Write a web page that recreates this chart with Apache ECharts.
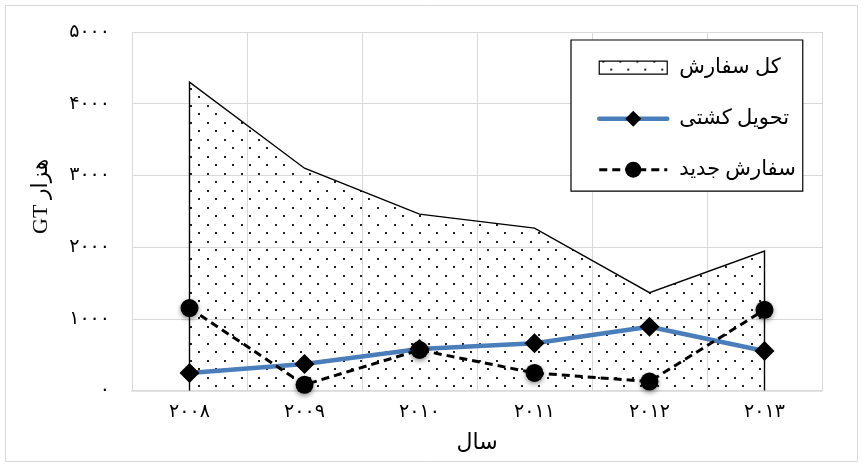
<!DOCTYPE html>
<html>
<head>
<meta charset="utf-8">
<script src="https://cdn.jsdelivr.net/npm/echarts@6/dist/echarts.min.js"></script>
<style>
  html, body { margin: 0; padding: 0; background: #fff; }
  #chart { width: 863px; height: 467px; }
</style>
</head>
<body>
<div id="chart"></div>
<script>
// Years on the category axis
const years = ['2008', '2009', '2010', '2011', '2012', '2013'];
// Thousand GT
const totalOrders = [4300, 3100, 2460, 2265, 1365, 1945];
const shipDelivery = [245, 370, 580, 660, 890, 550];
const newOrders = [1150, 80, 565, 245, 125, 1125];
// Value axis ticks
const yTicks = [0, 1000, 2000, 3000, 4000, 5000];
const seriesNames = ['کل سفارش', 'تحویل کشتی', 'سفارش جدید'];
const xAxisName = 'سال';
const yAxisName = 'GT هزار';

const FONT = '"Liberation Serif", "DejaVu Serif", "DejaVu Sans", serif';
const GRID_GRAY = '#d9d9d9';
const BLUE = '#4a7ebb';

// Western digits -> Persian digits
const faDigits = s => String(s).replace(/\d/g, d => '۰۱۲۳۴۵۶۷۸۹'[d]);

// Staggered dot fill used for the total-orders area
function dotPattern() {
  const c = document.createElement('canvas');
  c.width = 17; c.height = 17;
  const g = c.getContext('2d');
  g.fillStyle = '#222';
  g.fillRect(3, 3, 2, 2);
  g.fillRect(11, 11, 2, 2);
  return c;
}
const pattern = { image: dotPattern(), repeat: 'repeat' };

// Flat swatch for the area legend entry (move-to points keep it shorter than the item box)
const areaSwatch = 'path://M0,0 M0,3.5 L68,3.5 L68,16.5 L0,16.5 Z M68,20';

const chart = echarts.init(document.getElementById('chart'), null, { renderer: 'canvas' });

chart.setOption({
  animation: false,
  backgroundColor: '#fff',
  textStyle: { fontFamily: FONT },
  graphic: [{
    type: 'rect',
    shape: { x: 5.5, y: 5.5, width: 852, height: 456 },
    style: { fill: 'none', stroke: GRID_GRAY, lineWidth: 1 },
    silent: true,
    z: -10
  }],
  grid: { left: 132, right: 41, top: 32, bottom: 76.5 },
  legend: {
    orient: 'vertical',
    left: 571,
    top: 40,
    align: 'left',
    padding: [17, 7, 11, 26],
    itemGap: 30,
    itemWidth: 68,
    itemHeight: 20,
    borderColor: '#000',
    borderWidth: 1.2,
    backgroundColor: '#fff',
    textStyle: { fontFamily: FONT, fontSize: 21, color: '#000', padding: [0, 0, 0, 7] },
    data: [
      { name: seriesNames[0], icon: areaSwatch, itemStyle: { color: pattern, borderColor: '#000', borderWidth: 1.2 } },
      { name: seriesNames[1], lineStyle: { width: 4.5, color: BLUE } },
      { name: seriesNames[2], lineStyle: { width: 3, color: '#000', type: [8, 5] } }
    ]
  },
  xAxis: {
    type: 'category',
    data: years.map(faDigits),
    boundaryGap: true,
    axisLine: { show: true, lineStyle: { color: GRID_GRAY, width: 1.5 } },
    axisTick: { show: false },
    splitLine: { show: true, lineStyle: { color: GRID_GRAY, width: 1 } },
    axisLabel: { fontFamily: FONT, fontSize: 19, color: '#000', margin: 12 },
    name: xAxisName,
    nameLocation: 'middle',
    nameGap: 42,
    nameTextStyle: { fontFamily: FONT, fontSize: 22, color: '#000' }
  },
  yAxis: {
    type: 'value',
    min: yTicks[0],
    max: yTicks[yTicks.length - 1],
    interval: yTicks[1] - yTicks[0],
    axisLine: { show: false },
    axisTick: { show: false },
    splitLine: { show: true, lineStyle: { color: GRID_GRAY, width: 1 } },
    axisLabel: { fontFamily: FONT, fontSize: 19, color: '#000', margin: 22, formatter: v => faDigits(v) },
    name: yAxisName,
    nameLocation: 'middle',
    nameGap: 80,
    nameTextStyle: { fontFamily: FONT, fontSize: 22, color: '#000', padding: [0, 0, 0, 30] }
  },
  series: [
    {
      type: 'custom',
      name: seriesNames[0],
      data: totalOrders.map((v, i) => [i, v]),
      encode: { x: 0, y: 1 },
      itemStyle: { color: pattern },
      silent: true,
      z: 1,
      renderItem: (params, api) => {
        if (params.dataIndex !== 0) return null;
        const last = totalOrders.length - 1;
        const top = totalOrders.map((v, i) => api.coord([i, v]));
        const outline = [api.coord([0, 0])].concat(top, [api.coord([last, 0])]);
        return {
          type: 'group',
          children: [
            { type: 'polygon', shape: { points: outline }, style: { fill: pattern, stroke: null } },
            { type: 'polyline', shape: { points: outline }, style: { fill: null, stroke: '#000', lineWidth: 1.4 } }
          ]
        };
      }
    },
    {
      type: 'line',
      name: seriesNames[1],
      data: shipDelivery,
      symbol: 'diamond',
      symbolSize: 20,
      z: 3,
      lineStyle: { color: BLUE, width: 4.5, cap: 'round' },
      itemStyle: { color: '#000' },
      emphasis: { disabled: true }
    },
    {
      type: 'line',
      name: seriesNames[2],
      data: newOrders,
      symbol: 'circle',
      symbolSize: 18,
      z: 4,
      lineStyle: { color: '#000', width: 3, type: [8, 5] },
      itemStyle: { color: '#000', shadowBlur: 5, shadowOffsetY: 2, shadowColor: 'rgba(0,0,0,0.45)' },
      emphasis: { disabled: true }
    }
  ]
});
</script>
</body>
</html>
